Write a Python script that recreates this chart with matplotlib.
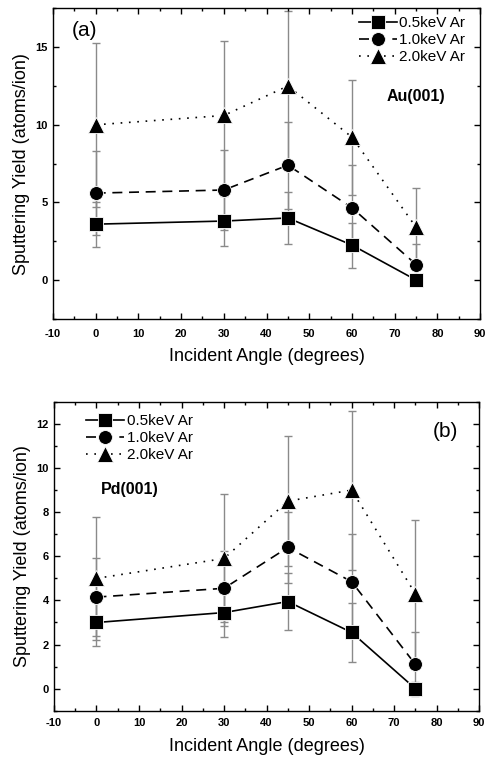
import matplotlib.pyplot as plt
import numpy as np
from matplotlib.ticker import MultipleLocator

plt.rcParams['font.family'] = ['Liberation Sans', 'DejaVu Sans']
plt.rcParams['axes.unicode_minus'] = False

angles = [0, 30, 45, 60, 75]
labels = ['0.5keV Ar', '1.0keV Ar', '2.0keV Ar']

# Au(001)
au_y = [[3.6, 3.8, 4.0, 2.25, 0.0],
        [5.6, 5.8, 7.4, 4.65, 1.0],
        [10.0, 10.6, 12.5, 9.2, 3.4]]
au_err = [[1.45, 1.6, 1.7, 1.45, 0.3],
          [2.7, 2.6, 2.8, 2.75, 1.35],
          [5.3, 4.8, 4.8, 3.7, 2.5]]

# Pd(001)
pd_y = [[3.0, 3.45, 3.95, 2.55, 0.0],
        [4.15, 4.55, 6.4, 4.85, 1.1],
        [5.0, 5.9, 8.5, 9.0, 4.3]]
pd_err = [[1.07, 1.1, 1.3, 1.35, 0.3],
          [1.75, 1.7, 1.6, 2.15, 1.45],
          [2.8, 2.9, 2.95, 3.6, 3.35]]

markers = ['s', 'o', '^']
msizes = [9.5, 10, 12]
styles = ['-', (0, (6, 4)), (0, (1, 4))]


def panel(ax, ys, errs, ylim, ymajor, yminor, tag, tagpos, name, namepos, legpos, xpad):
    for y, e, m, ms, ls, lab in zip(ys, errs, markers, msizes, styles, labels):
        ax.errorbar(angles, y, yerr=e, fmt='none', ecolor='#8a8a8a',
                    elinewidth=1, capsize=3, capthick=1, zorder=1)
        ax.plot(angles, y, color='black', ls=ls, lw=1.2, marker=m, ms=ms,
                mfc='black', mec='white', mew=0.6, label=lab, zorder=3)
    ax.set_xlim(-10, 90)
    ax.set_ylim(*ylim)
    ax.xaxis.set_major_locator(MultipleLocator(10))
    ax.xaxis.set_minor_locator(MultipleLocator(5))
    ax.yaxis.set_major_locator(MultipleLocator(ymajor))
    ax.yaxis.set_minor_locator(MultipleLocator(yminor))
    ax.tick_params(which='both', direction='in', top=True, right=True,
                   labelsize=8, width=1)
    ax.tick_params(which='major', length=4)
    ax.tick_params(which='minor', length=2.5)
    ax.tick_params(axis='x', pad=xpad)
    for t in ax.get_xticklabels() + ax.get_yticklabels():
        t.set_fontweight('bold')
    for s in ax.spines.values():
        s.set_linewidth(1)
    ax.set_xlabel('Incident Angle (degrees)', fontsize=13, labelpad=7)
    ax.set_ylabel('Sputtering Yield (atoms/ion)', fontsize=13, labelpad=4)
    ax.text(tagpos[0], tagpos[1], tag, transform=ax.transAxes, fontsize=15,
            ha='left', va='top')
    ax.text(namepos[0], namepos[1], name, transform=ax.transAxes, fontsize=11.5,
            fontweight='bold', ha='left', va='top')
    ax.legend(loc='upper left', bbox_to_anchor=legpos, frameon=False,
              fontsize=11, handlelength=2.5, handletextpad=0.15,
              labelspacing=0.2, borderaxespad=0, borderpad=0.3)


fig = plt.figure(figsize=(4.86, 7.61), dpi=100)
ax1 = fig.add_axes([0.109, 0.581, 0.879, 0.408])
ax2 = fig.add_axes([0.111, 0.066, 0.875, 0.406])

panel(ax1, au_y, au_err, (-2.5, 17.5), 5, 2.5, '(a)', (0.045, 0.96),
      'Au(001)', (0.78, 0.74), (0.705, 0.99), 7)
panel(ax2, pd_y, pd_err, (-1, 13), 2, 1, '(b)', (0.89, 0.935),
      'Pd(001)', (0.11, 0.74), (0.065, 0.975), 5.5)

plt.savefig('out.png', dpi=100)
